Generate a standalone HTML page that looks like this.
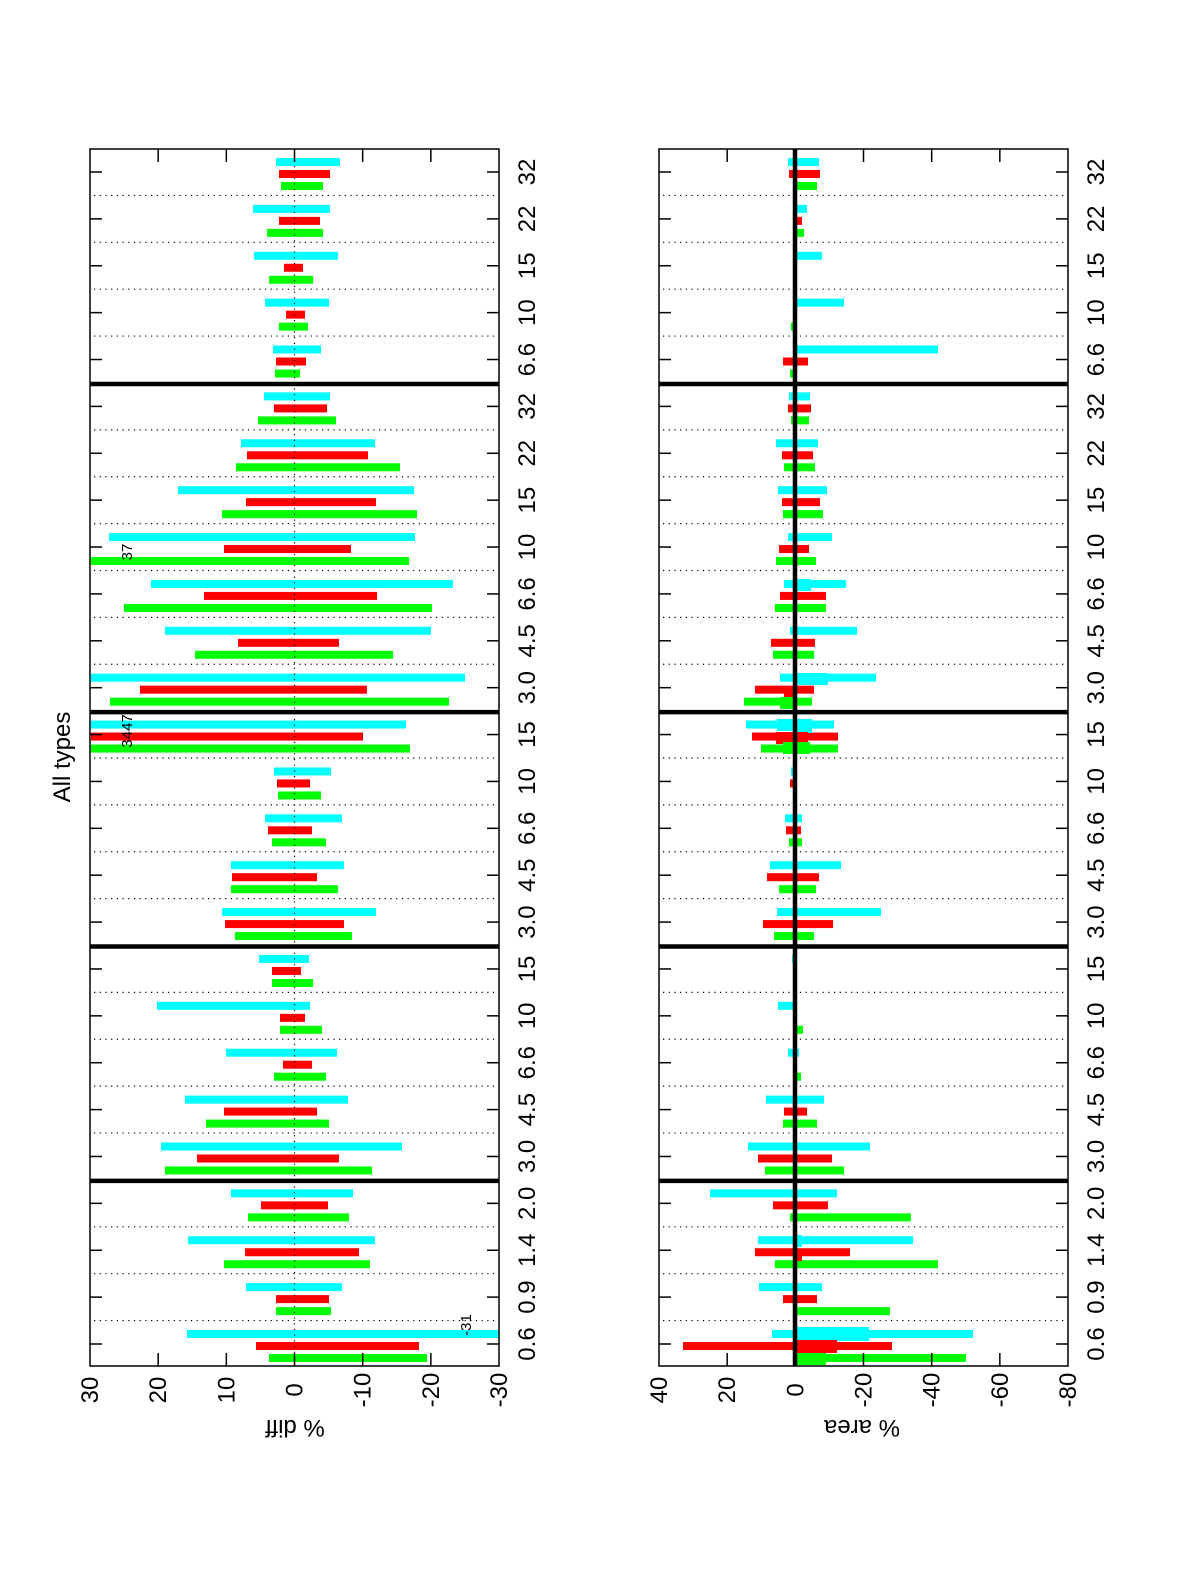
<!DOCTYPE html>
<html><head><meta charset="utf-8"><style>
html,body{margin:0;padding:0;background:#fff;}
svg{display:block;font-family:"Liberation Sans",sans-serif;}
</style></head><body>
<svg id="s" width="1200" height="1575" xmlns="http://www.w3.org/2000/svg">
<g id="bars"></g>
<g id="axes" fill="none" stroke="#000"></g>
<g font-size="24" text-anchor="middle" fill="#000">
<text transform="translate(70,757) rotate(-90)">All types</text>
<text transform="translate(295,1420) rotate(180)">% diff</text>
<text transform="translate(862,1420) rotate(180)">% area</text>
</g>
<g font-size="15" text-anchor="middle" fill="#000">
<text transform="translate(471,1325) rotate(-90)">-31</text>
<text transform="translate(132,731) rotate(-90)">3447</text>
<text transform="translate(132,552) rotate(-90)">37</text>
</g>
<g id="labels" font-size="24" text-anchor="middle" fill="#000"></g>
</svg>
<script>
(function(){
var NS="http://www.w3.org/2000/svg";
function el(p,t,a){var e=document.createElementNS(NS,t);for(var k in a)e.setAttribute(k,a[k]);p.appendChild(e);return e;}
var bars=document.getElementById('bars'),axes=document.getElementById('axes'),labels=document.getElementById('labels');
var cats=["0.6","0.9","1.4","2.0","3.0","4.5","6.6","10","15","3.0","4.5","6.6","10","15","3.0","4.5","6.6","10","15","22","32","6.6","10","15","22","32"];
function Y(i){return 1344-i*46.88;}
var seps=[3,8,13,20];
var G="#00ff00",R="#ff0000",C="#00ffff";
var topData=[
[[269,427],[256,419],[187,499]],
[[276,331],[276,329],[246,342]],
[[224,370],[245,359],[188,375]],
[[248,349],[261,328],[231,353]],
[[165,372],[197,339],[161,402]],
[[206,329],[224,317],[185,348]],
[[274,326],[283,312],[226,337]],
[[280,322],[280,305],[157,310]],
[[272,313],[272,301],[259,309]],
[[235,352],[225,344],[222,376]],
[[231,338],[232,317],[231,344]],
[[272,326],[268,312],[265,342]],
[[278,321],[277,310],[274,331]],
[[91,410],[91,363],[91,406]],
[[110,449],[140,367],[91,465]],
[[195,393],[238,339],[165,431]],
[[124,432],[204,377],[151,453]],
[[91,409],[224,351],[109,415]],
[[222,417],[246,376],[178,414]],
[[236,400],[247,368],[241,375]],
[[258,336],[274,327],[264,330]],
[[275,300],[276,306],[273,321]],
[[279,308],[286,305],[265,329]],
[[269,313],[284,303],[254,338]],
[[267,323],[279,320],[253,330]],
[[281,323],[279,330],[276,340]]];
var botData=[
[[795,966],[683,892],[772,973]],
[[795,890],[783,817],[759,822]],
[[775,938],[755,850],[758,913]],
[[790,911],[773,828],[710,837]],
[[765,844],[758,832],[748,870]],
[[783,817],[784,807],[766,824]],
[[795,801],null,[788,799]],
[[795,803],null,[778,795]],
[null,null,[792,795]],
[[774,814],[763,833],[777,881]],
[[779,816],[767,819],[770,841]],
[[789,802],[786,801],[785,802]],
[null,[790,795],[791,795]],
[[761,838],[752,838],[746,834]],
[[744,812],[755,814],[780,876]],
[[773,814],[771,815],[790,857]],
[[775,826],[780,826],[784,846]],
[[776,816],[779,809],[788,832]],
[[783,823],[782,820],[778,827]],
[[784,815],[782,813],[776,818]],
[[791,809],[788,811],[789,810]],
[[790,795],[783,808],[795,938]],
[[791,795],null,[795,844]],
[null,null,[795,822]],
[[795,804],[795,802],[795,807]],
[[793,817],[789,820],[788,819]]];
function drawBars(data){
 data.forEach(function(d,i){var y=Y(i);
  var spec=[[G,14],[R,2],[C,-10]];
  spec.forEach(function(s,j){var r=d[j];if(!r)return;
   el(bars,'rect',{x:r[0],y:y+s[1]-4,width:r[1]-r[0],height:8,fill:s[0]});});
 });
}
drawBars(topData);drawBars(botData);
[[795,869,1327,14,C],[795,837,1340,13,R],[795,826,1353,12,G],
 [795,812,719,14,C],[777,808,719,12,C],[776,808,732,12,R],[783,810,742,12,G],
 [795,828,673,12,C],[784,795,686,12,R],[780,795,697,12,G],[795,811,579,12,C],
 [795,802,1235,12,C],[795,802,1249,12,R]
].forEach(function(a){el(bars,'rect',{x:a[0],y:a[2],width:a[1]-a[0],height:a[3],fill:a[4]});});
function panel(x0,x1,ticks,zero,thick){
 el(axes,'rect',{x:x0,y:149,width:x1-x0,height:1217,'stroke-width':1.5});
 for(var i=0;i<25;i++){ if(seps.indexOf(i)>=0)continue; var y=(Y(i)+Y(i+1))/2;
  el(axes,'line',{x1:x0+4,x2:x1-4,y1:y,y2:y,'stroke-width':1.2,'stroke-dasharray':'1.2,4.5'});}
 seps.forEach(function(i){var y=(Y(i)+Y(i+1))/2+1;el(axes,'line',{x1:x0,x2:x1,y1:y,y2:y,'stroke-width':4.5});});
 for(var i=0;i<26;i++){var y=Y(i);
  el(axes,'line',{x1:x0,x2:x0+12,y1:y,y2:y,'stroke-width':1.5});
  el(axes,'line',{x1:x1-12,x2:x1,y1:y,y2:y,'stroke-width':1.5});
  el(labels,'text',{transform:'translate('+(x1+36)+','+y+') rotate(-90)'}).textContent=cats[i];}
 var n=ticks.length;
 ticks.forEach(function(t,k){var x=x0+(x1-x0)*k/(n-1);
  if(k>0&&k<n-1){el(axes,'line',{x1:x,x2:x,y1:149,y2:162,'stroke-width':1.5});el(axes,'line',{x1:x,x2:x,y1:1353,y2:1366,'stroke-width':1.5});}
  el(labels,'text',{transform:'translate('+(x+8)+',1390) rotate(-90)'}).textContent=t;});
 if(thick) el(axes,'line',{x1:zero,x2:zero,y1:149,y2:1366,'stroke-width':4.5});
 else el(axes,'line',{x1:zero,x2:zero,y1:149,y2:1366,'stroke-width':1.2,'stroke-dasharray':'1.2,4.5'});
}
panel(90,499,["30","20","10","0","-10","-20","-30"],294.5,false);
panel(659,1068,["40","20","0","-20","-40","-60","-80"],795,true);
})();
</script>
</body></html>
